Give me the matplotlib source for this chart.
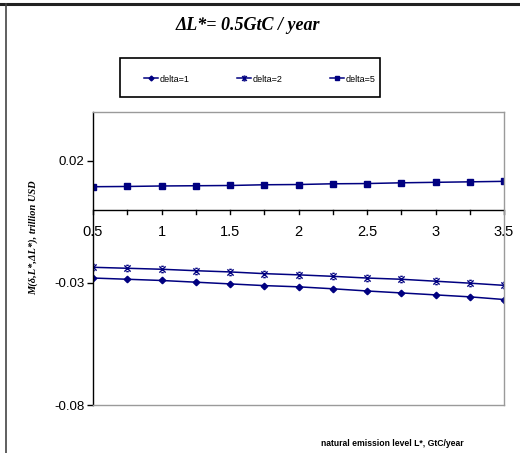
import matplotlib
matplotlib.use("Agg")
import matplotlib.pyplot as plt
from matplotlib.lines import Line2D
from matplotlib.patches import Rectangle
from matplotlib.path import Path
import numpy as np

emission = [0.5, 0.75, 1.0, 1.25, 1.5, 1.75, 2.0, 2.25, 2.5, 2.75, 3.0, 3.25, 3.5]
delta1 = [-0.0280, -0.0285, -0.0290, -0.0297, -0.0304, -0.0311, -0.0316,
          -0.0324, -0.0333, -0.0341, -0.0349, -0.0357, -0.0368]
delta2 = [-0.0236, -0.0240, -0.0244, -0.0250, -0.0255, -0.0262, -0.0267,
          -0.0273, -0.0280, -0.0285, -0.0293, -0.0301, -0.0310]
delta5 = [0.0094, 0.0095, 0.0097, 0.0098, 0.0099, 0.0102, 0.0103,
          0.0106, 0.0107, 0.0110, 0.0112, 0.0114, 0.0116]
labels = ["delta=1", "delta=2", "delta=5"]
x_ticks = [0.5, 1.0, 1.5, 2.0, 2.5, 3.0, 3.5]
x_tick_labels = ["0.5", "1", "1.5", "2", "2.5", "3", "3.5"]
y_ticks = [0.02, -0.03, -0.08]
y_tick_labels = ["0.02", "-0.03", "-0.08"]

W, H = 520, 453
fig = plt.figure(figsize=(W / 100, H / 100), dpi=100)
fig.patch.set_facecolor("white")

sans = ["Liberation Sans Narrow", "Liberation Sans", "DejaVu Sans"]
serif = ["Liberation Serif", "DejaVu Serif"]

# x marker with short bars (Excel-style star)
star = Path([(-1, -1), (1, 1), (-1, 1), (1, -1),
             (-0.4, 1), (0.4, 1), (-0.4, -1), (0.4, -1)],
            [Path.MOVETO, Path.LINETO, Path.MOVETO, Path.LINETO,
             Path.MOVETO, Path.LINETO, Path.MOVETO, Path.LINETO])

ax = fig.add_axes([93 / W, 1 - 405 / H, (504 - 93) / W, (405 - 112) / H])
navy = "#000080"
ax.plot(emission, delta1, color=navy, lw=1.1, marker="D", ms=3.3,
        mfc=navy, mec=navy, label=labels[0])
ax.plot(emission, delta2, color=navy, lw=1.1, marker=star, ms=4.5,
        mfc="none", mec=navy, mew=1.0, label=labels[1])
ax.plot(emission, delta5, color=navy, lw=1.1, marker="s", ms=4.5,
        mfc=navy, mec=navy, label=labels[2])

ax.set_xlim(0.5, 3.5)
ax.set_ylim(-0.08, 0.04)

for s in ["top", "right", "bottom"]:
    ax.spines[s].set_color("#9a9a9a")
    ax.spines[s].set_linewidth(1.0)
ax.spines["left"].set_color("black")
ax.spines["left"].set_linewidth(1.0)
ax.axhline(0, color="black", lw=1.0, zorder=1)

ax.set_yticks(y_ticks)
ax.set_yticklabels(y_tick_labels, fontfamily=sans, fontsize=9.5)
ax.tick_params(axis="y", direction="out", length=4, width=1, pad=2)

ax.set_xticks([])
for xv in emission:
    ax.plot([xv, xv], [0, -0.0017], color="black", lw=1.0, clip_on=False, zorder=1)
for xv, lab in zip(x_ticks, x_tick_labels):
    ax.text(xv, -0.0090, lab, ha="center", va="center", fontsize=10.5,
            fontfamily=sans, clip_on=False)

fig.text(33 / W, 1 - 238 / H, "M(δ,L*,ΔL*), trillion USD", rotation=90,
         ha="center", va="center", fontsize=7.5, fontfamily=serif,
         fontstyle="italic", fontweight="bold")

fig.text(392 / W, 1 - 443 / H, "natural emission level L*, GtC/year",
         ha="center", va="center", fontsize=6.2, fontfamily=sans, fontweight="bold")

fig.text(248 / W, 1 - 25 / H, "ΔL*= 0.5GtC / year", ha="center", va="center",
         fontsize=13, fontfamily=serif, fontstyle="italic", fontweight="bold")

# legend frame
fig.add_artist(Rectangle((120 / W, 1 - 97 / H), 260 / W, 39 / H,
                         transform=fig.transFigure, fill=False,
                         edgecolor="black", lw=1.2))
handles, labs = ax.get_legend_handles_labels()
leg = fig.legend(handles, labs, ncol=3, loc="center",
                 bbox_to_anchor=(260 / W, 1 - 79 / H),
                 prop={"family": sans, "size": 6.5},
                 handlelength=1.5, handletextpad=0.2, columnspacing=5.3,
                 borderaxespad=0.0, borderpad=0.0, frameon=False,
                 markerscale=0.75)

fig.add_artist(Line2D([0, 1], [1 - 4 / H, 1 - 4 / H], transform=fig.transFigure,
                      color="#222222", lw=2.2))
fig.add_artist(Line2D([6 / W, 6 / W], [0, 1 - 4 / H], transform=fig.transFigure,
                      color="#444444", lw=1.2))

fig.savefig("out.png", dpi=100)
